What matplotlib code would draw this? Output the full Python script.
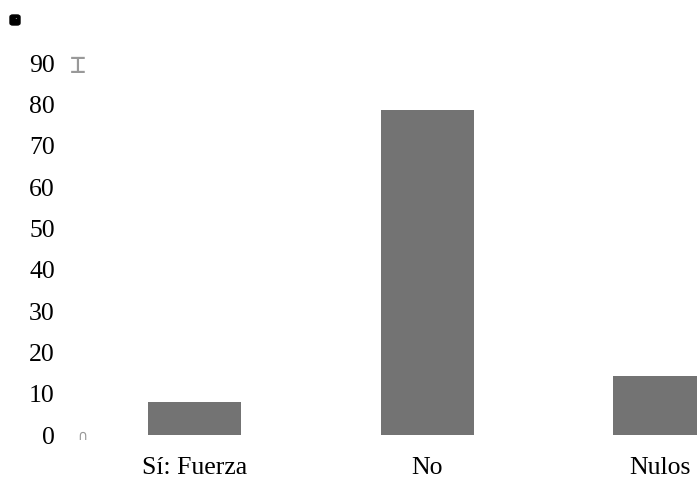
import numpy as np
import matplotlib
matplotlib.use('Agg')
import matplotlib.pyplot as plt
from matplotlib.patches import FancyBboxPatch

categories = ['Sí: Fuerza', 'No', 'Nulos']
values = [8.1, 78.7, 14.2]
yticks = [0, 10, 20, 30, 40, 50, 60, 70, 80, 90]

plt.rcParams['font.family'] = ['Liberation Serif', 'DejaVu Sans']

W, H = 697, 479
fig = plt.figure(figsize=(W / 100, H / 100), dpi=100)

# axes placed in pixels: left 100, right edge of figure, zero at y=435
left, right, bottom, top = 100, 697, 435, 63.3
ax = fig.add_axes([left / W, (H - bottom) / H, (right - left) / W, (bottom - top) / H])

x = np.arange(len(categories))
ax.bar(x, values, width=0.4, color='#737373')

ax.set_xlim(-0.4065, 2.1613)
ax.set_ylim(0, 90)
ax.set_yticks(yticks)
ax.set_yticklabels([str(v) for v in yticks])
ax.set_xticks(x)
ax.set_xticklabels(categories)
ax.tick_params(axis='y', length=0, pad=32.5, labelsize=18.5)
ax.tick_params(axis='x', length=0, pad=16, labelsize=18.5)
for s in ax.spines.values():
    s.set_visible(False)

# small axis glyphs
fig.text(78 / W, 1 - 66 / H, '⌶', color='#999999', fontsize=19,
         ha='center', va='center', family=['DejaVu Sans Mono', 'DejaVu Sans'])
fig.text(82 / W, 1 - 436 / H, '∩', color='#999999', fontsize=10,
         ha='center', va='center', family=['DejaVu Sans'])

# black rounded square top left
sq = FancyBboxPatch((10 / W, 1 - 25 / H), 10 / W, 10 / H,
                    boxstyle='round,pad=0,rounding_size=0.004',
                    transform=fig.transFigure, color='black')
fig.patches.append(sq)
fig.text(15 / W, 1 - 20 / H, '·', color='white', fontsize=6,
         ha='center', va='center', family=['DejaVu Sans'])

fig.savefig('out.png', dpi=100)
